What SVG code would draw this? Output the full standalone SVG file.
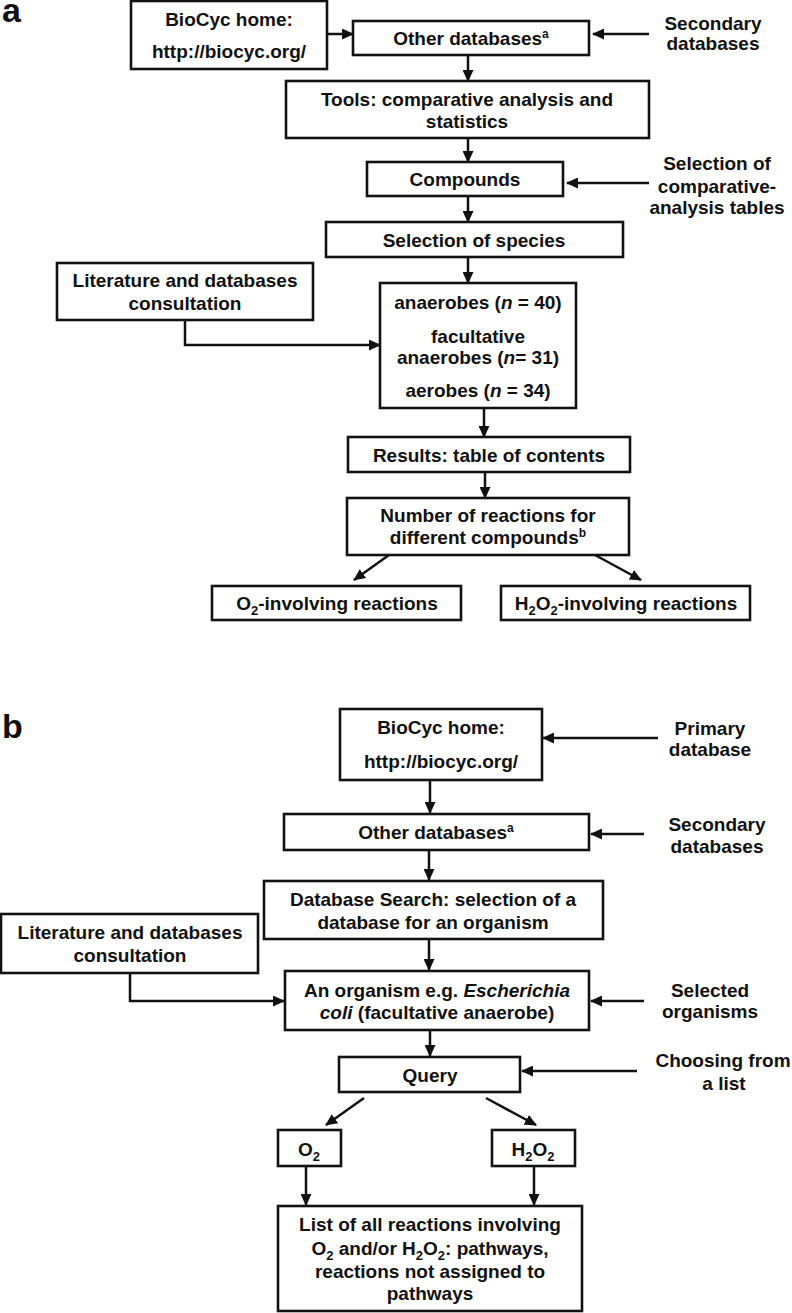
<svg xmlns="http://www.w3.org/2000/svg" width="792" height="1313" viewBox="0 0 792 1313">
<style>
text{font-family:"Liberation Sans",Arial,sans-serif;font-weight:bold;font-size:19px;fill:#111;text-anchor:middle}
.lbl{font-size:34px;text-anchor:start}
.box{fill:#fff;stroke:#111;stroke-width:2.6}
.con{fill:none;stroke:#111;stroke-width:2.5;marker-end:url(#ah)}
.sub{font-size:13px}
.sup{font-size:12px}
.it{font-style:italic}
</style>
<defs>
<marker id="ah" markerUnits="userSpaceOnUse" markerWidth="12" markerHeight="11" refX="11" refY="5.5" orient="auto">
<path d="M0,0 L12,5.5 L0,11 z" fill="#111"/>
</marker>
</defs>
<rect width="792" height="1313" fill="#fff"/>
<text class="lbl" x="2" y="22">a</text>
<text class="lbl" x="2" y="738">b</text>

<g id="connectors">
<line class="con" x1="327" y1="34" x2="353" y2="34"/>
<line class="con" x1="649" y1="34" x2="593" y2="34"/>
<line class="con" x1="468" y1="55" x2="468" y2="81"/>
<line class="con" x1="468" y1="138" x2="468" y2="162"/>
<line class="con" x1="649" y1="183" x2="567" y2="183"/>
<line class="con" x1="468" y1="196" x2="468" y2="222"/>
<line class="con" x1="468" y1="257" x2="468" y2="283"/>
<polyline class="con" points="185,320 185,345 380,345"/>
<line class="con" x1="484" y1="408" x2="484" y2="437"/>
<line class="con" x1="485" y1="472" x2="485" y2="498"/>
<line class="con" x1="389" y1="555" x2="354" y2="580"/>
<line class="con" x1="595" y1="555" x2="641" y2="580"/>

<line class="con" x1="658" y1="738" x2="543" y2="738"/>
<line class="con" x1="430" y1="780" x2="430" y2="813"/>
<line class="con" x1="644" y1="834" x2="591" y2="834"/>
<line class="con" x1="429" y1="850" x2="429" y2="880"/>
<line class="con" x1="429" y1="939" x2="429" y2="970"/>
<polyline class="con" points="130,973 130,1001 284,1001"/>
<line class="con" x1="644" y1="1001" x2="591" y2="1001"/>
<line class="con" x1="430" y1="1030" x2="430" y2="1056"/>
<line class="con" x1="637" y1="1071" x2="522" y2="1071"/>
<line class="con" x1="364" y1="1098" x2="326" y2="1125"/>
<line class="con" x1="486" y1="1098" x2="536" y2="1125"/>
<line class="con" x1="306" y1="1166" x2="306" y2="1205"/>
<line class="con" x1="534" y1="1166" x2="534" y2="1205"/>
</g>

<g id="a_home"><rect class="box" x="131" y="1" width="196" height="68"/>
<text x="229" y="26">BioCyc home:</text><text x="229" y="58">http://biocyc.org/</text></g>
<g id="a_other"><rect class="box" x="353" y="21" width="236" height="34"/>
<text x="471" y="45">Other databases<tspan class="sup" dy="-7">a</tspan></text></g>
<g id="a_secondary"><text x="713" y="30">Secondary</text><text x="713" y="50">databases</text></g>
<g id="a_tools"><rect class="box" x="286" y="81" width="363" height="57"/>
<text x="467" y="106">Tools: comparative analysis and</text><text x="467" y="128">statistics</text></g>
<g id="a_compounds"><rect class="box" x="367" y="162" width="196" height="34"/>
<text x="465" y="186">Compounds</text></g>
<g id="a_selection_tables"><text x="717" y="170">Selection of</text><text x="717" y="193">comparative-</text><text x="717" y="214">analysis tables</text></g>
<g id="a_species"><rect class="box" x="326" y="222" width="297" height="35"/>
<text x="474" y="247">Selection of species</text></g>
<g id="a_literature"><rect class="box" x="57" y="263" width="256" height="57"/>
<text x="185" y="287">Literature and databases</text><text x="185" y="310">consultation</text></g>
<g id="a_groups"><rect class="box" x="380" y="283" width="196" height="125"/>
<text x="478" y="309">anaerobes (<tspan class="it">n</tspan> = 40)</text>
<text x="478" y="343">facultative</text>
<text x="478" y="364">anaerobes (<tspan class="it">n</tspan>= 31)</text>
<text x="478" y="397">aerobes (<tspan class="it">n</tspan> = 34)</text></g>
<g id="a_results"><rect class="box" x="348" y="437" width="282" height="35"/>
<text x="489" y="462">Results: table of contents</text></g>
<g id="a_number"><rect class="box" x="347" y="498" width="282" height="57"/>
<text x="488" y="522">Number of reactions for</text><text x="488" y="544">different compounds<tspan class="sup" dy="-7">b</tspan></text></g>
<g id="a_o2"><rect class="box" x="212" y="586" width="249" height="34"/>
<text x="337" y="610">O<tspan class="sub" dy="5">2</tspan><tspan dy="-5">-involving reactions</tspan></text></g>
<g id="a_h2o2"><rect class="box" x="501" y="586" width="249" height="34"/>
<text x="626" y="610">H<tspan class="sub" dy="5">2</tspan><tspan dy="-5">O</tspan><tspan class="sub" dy="5">2</tspan><tspan dy="-5">-involving reactions</tspan></text></g>

<g id="b_home"><rect class="box" x="340" y="709" width="202" height="71"/>
<text x="441" y="734">BioCyc home:</text><text x="441" y="768">http://biocyc.org/</text></g>
<g id="b_primary"><text x="710" y="735">Primary</text><text x="710" y="756">database</text></g>
<g id="b_other"><rect class="box" x="284" y="814" width="305" height="36"/>
<text x="436" y="839">Other databases<tspan class="sup" dy="-7">a</tspan></text></g>
<g id="b_secondary"><text x="717" y="831">Secondary</text><text x="717" y="853">databases</text></g>
<g id="b_search"><rect class="box" x="264" y="881" width="339" height="58"/>
<text x="433" y="906">Database Search: selection of a</text><text x="433" y="929">database for an organism</text></g>
<g id="b_literature"><rect class="box" x="1" y="914" width="257" height="59"/>
<text x="130" y="939">Literature and databases</text><text x="130" y="962">consultation</text></g>
<g id="b_organism"><rect class="box" x="285" y="971" width="304" height="59"/>
<text x="437" y="997">An organism e.g. <tspan class="it">Escherichia</tspan></text><text x="437" y="1019"><tspan class="it">coli</tspan> (facultative anaerobe)</text></g>
<g id="b_selected"><text x="710" y="997">Selected</text><text x="710" y="1018">organisms</text></g>
<g id="b_query"><rect class="box" x="339" y="1057" width="181" height="35"/>
<text x="430" y="1082">Query</text></g>
<g id="b_choosing"><text x="723" y="1067">Choosing from</text><text x="724" y="1090">a list</text></g>
<g id="b_o2"><rect class="box" x="278" y="1130" width="63" height="36"/>
<text x="309" y="1156">O<tspan class="sub" dy="5">2</tspan></text></g>
<g id="b_h2o2"><rect class="box" x="492" y="1130" width="83" height="36"/>
<text x="533" y="1156">H<tspan class="sub" dy="5">2</tspan><tspan dy="-5">O</tspan><tspan class="sub" dy="5">2</tspan></text></g>
<g id="b_list"><rect class="box" x="278" y="1206" width="304" height="105"/>
<text x="430" y="1231">List of all reactions involving</text>
<text x="430" y="1255">O<tspan class="sub" dy="5">2</tspan><tspan dy="-5"> and/or H</tspan><tspan class="sub" dy="5">2</tspan><tspan dy="-5">O</tspan><tspan class="sub" dy="5">2</tspan><tspan dy="-5">: pathways,</tspan></text>
<text x="430" y="1278">reactions not assigned to</text>
<text x="430" y="1300">pathways</text></g>
</svg>
